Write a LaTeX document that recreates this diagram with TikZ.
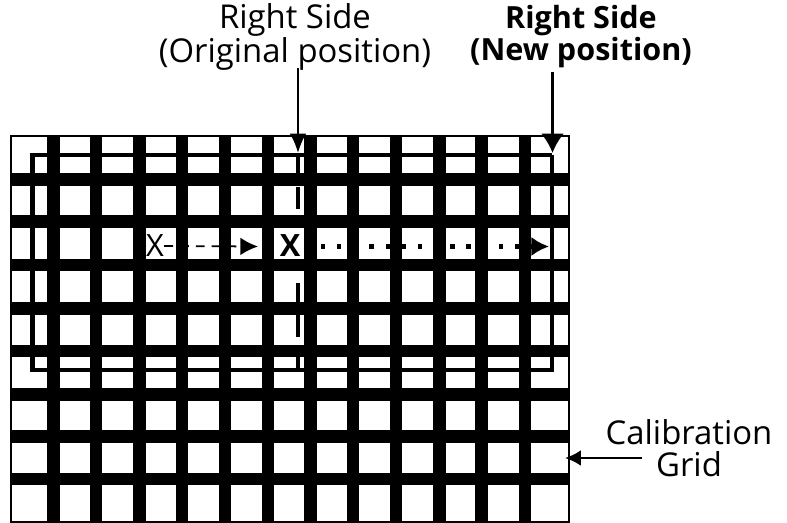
\documentclass[tikz,border=0pt]{standalone}
\usepackage{fontspec}
\setmainfont{Open Sans}
\usetikzlibrary{arrows.meta,positioning}
\tikzset{
  gridbar/.style={line width=7.2pt,black},
  frameline/.style={line width=1.1pt,black},
  sideline/.style={line width=2.6pt,black},
  labeltext/.style={font=\fontsize{18.7pt}{18.2pt}\selectfont,align=center,inner sep=0pt},
  marktext/.style={font=\fontsize{17.5pt}{20pt}\selectfont,inner sep=0pt},
  pointer/.style={-{Latex[length=11pt,width=9.5pt]},line width=1.5pt,black},
}
\begin{document}
\begin{tikzpicture}[x=0.02cm,y=-0.02cm]
\useasboundingbox (0,0) rectangle (787,523);
% grid
\draw[frameline] (11,136) rectangle (569,522);
\foreach \gx in {53.5,96,139.5,182,225,268,310.5,353,396,439.5,481.5,525}
  \draw[gridbar] (\gx,136) -- (\gx,522);
\foreach \gy in {179.5,221.5,265,308.5,351,394.5,436.5,479}
  \draw[gridbar] (11,\gy) -- (569,\gy);
% sides
\draw[sideline] (552,155) -- (32.5,155) -- (32.5,370) -- (552,370) -- (552,155);
\draw[sideline] (298,157) -- (298,173);
\draw[sideline] (298,187) -- (298,209);
\draw[sideline] (298,283) -- (298,302);
\draw[sideline] (298,315) -- (298,337);
\draw[sideline] (298,357) -- (298,370);
% labels
\node[labeltext] (oldlabel) at (295,37) {Right Side\\(Original position)};
\node[labeltext,font=\fontsize{17.4pt}{18.2pt}\selectfont\bfseries] (newlabel) at (581,37) {Right Side\\(New position)};
\node[labeltext,anchor=north] (calib) at (689,419) {Calibration\\Grid};
\coordinate (oldtop) at (298,68);
\coordinate (newtop) at (552.5,72);
\coordinate (oldtip) at (298,153);
\coordinate (newtip) at (552.5,153);
\coordinate (calibstart) at (642,458);
\coordinate (calibtip) at (565,458);
\draw[pointer] (oldtop) -- (oldtip);
\draw[pointer,-{Latex[length=11pt,width=13pt]}] (newtop) -- (newtip);
\draw[pointer,-{Latex[length=9pt,width=9pt]}] (calibstart) -- (calibtip);
% moves
\node[marktext] (xold) at (155,246) {X};
\node[marktext,font=\fontsize{17.5pt}{20pt}\selectfont\bfseries] (xnew) at (290,246) {X};
\coordinate (oldend) at (258,246.5);
\coordinate (newend) at (549,246.5);
\coordinate (dotstart) at (321,246.5);
\draw[-{Latex[length=10pt,width=10pt]},line width=1pt,dash pattern=on 5pt off 4pt] (xold.east) -- (oldend);
\draw[-{Latex[length=10pt,width=11pt]},line width=2.6pt,dash pattern=on 2.4pt off 6.8pt] (dotstart) -- (newend);
\end{tikzpicture}
\end{document}
